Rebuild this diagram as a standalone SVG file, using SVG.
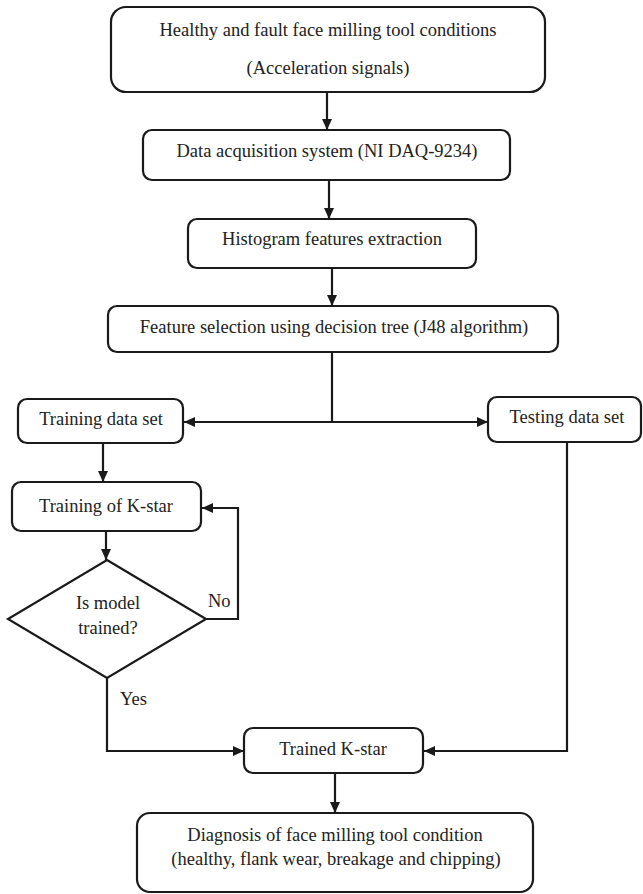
<svg xmlns="http://www.w3.org/2000/svg" width="643" height="894" viewBox="0 0 643 894">
<style>
.box{fill:#fff;stroke:#1a1a1a;stroke-width:2.2}
.t{font-family:"Liberation Serif","Times New Roman",serif;font-size:18.5px;fill:#222;text-anchor:middle}
.l{font-family:"Liberation Serif","Times New Roman",serif;font-size:18.5px;fill:#222}
.c{fill:none;stroke:#1a1a1a;stroke-width:2.2}
</style>
<defs>
<marker id="ah" markerUnits="userSpaceOnUse" markerWidth="12" markerHeight="12" viewBox="0 0 12 12" refX="11" refY="6" orient="auto">
<path d="M0,1 L11,6 L0,11 Z" fill="#1a1a1a"/>
</marker>
</defs>
<rect width="643" height="894" fill="#fff"/>
<g id="connectors">
<line class="c" x1="327" y1="92" x2="327" y2="130" marker-end="url(#ah)"/>
<line class="c" x1="329" y1="180" x2="329" y2="219" marker-end="url(#ah)"/>
<line class="c" x1="332" y1="268" x2="332" y2="306" marker-end="url(#ah)"/>
<line class="c" x1="332" y1="352" x2="332" y2="422"/>
<line class="c" x1="332" y1="422" x2="184" y2="422" marker-end="url(#ah)"/>
<line class="c" x1="332" y1="422" x2="488" y2="422" marker-end="url(#ah)"/>
<line class="c" x1="103" y1="443" x2="103" y2="482" marker-end="url(#ah)"/>
<line class="c" x1="106" y1="531" x2="106" y2="560" marker-end="url(#ah)"/>
<polyline class="c" points="206,619 238,619 238,508 202,508" marker-end="url(#ah)"/>
<polyline class="c" points="107,678 107,751 244,751" marker-end="url(#ah)"/>
<polyline class="c" points="567,442 567,751 424,751" marker-end="url(#ah)"/>
<line class="c" x1="335" y1="773" x2="335" y2="813" marker-end="url(#ah)"/>
</g>
<g id="n1"><rect class="box" x="111" y="7" width="434" height="85" rx="15"/>
<text class="t" x="328" y="36">Healthy and fault face milling tool conditions</text>
<text class="t" x="328" y="74">(Acceleration signals)</text></g>
<g id="n2"><rect class="box" x="143" y="130" width="367" height="50" rx="9"/>
<text class="t" x="327" y="157">Data acquisition system (NI DAQ-9234)</text></g>
<g id="n3"><rect class="box" x="188" y="219" width="288" height="49" rx="9"/>
<text class="t" x="332" y="245">Histogram features extraction</text></g>
<g id="n4"><rect class="box" x="108" y="306" width="450" height="46" rx="9"/>
<text class="t" x="334" y="333">Feature selection using decision tree (J48 algorithm)</text></g>
<g id="n5"><rect class="box" x="18" y="399" width="165" height="44" rx="9"/>
<text class="t" x="101" y="425">Training data set</text></g>
<g id="n6"><rect class="box" x="488" y="397" width="153" height="45" rx="9"/>
<text class="t" x="567" y="423">Testing data set</text></g>
<g id="n7"><rect class="box" x="12" y="482" width="189" height="49" rx="9"/>
<text class="t" x="106" y="512">Training of K-star</text></g>
<g id="n8"><polygon class="box" points="107,560 206,619 107,678 8,619"/>
<text class="t" x="108" y="609">Is model</text>
<text class="t" x="108" y="634">trained?</text></g>
<g id="n9"><rect class="box" x="244" y="728" width="179" height="45" rx="9"/>
<text class="t" x="333" y="755">Trained K-star</text></g>
<g id="n10"><rect class="box" x="137" y="813" width="396" height="79" rx="13"/>
<text class="t" x="335" y="841">Diagnosis of face milling tool condition</text>
<text class="t" x="336" y="865">(healthy, flank wear, breakage and chipping)</text></g>
<text class="l" x="208" y="607">No</text>
<text class="l" x="120" y="705">Yes</text>
</svg>
